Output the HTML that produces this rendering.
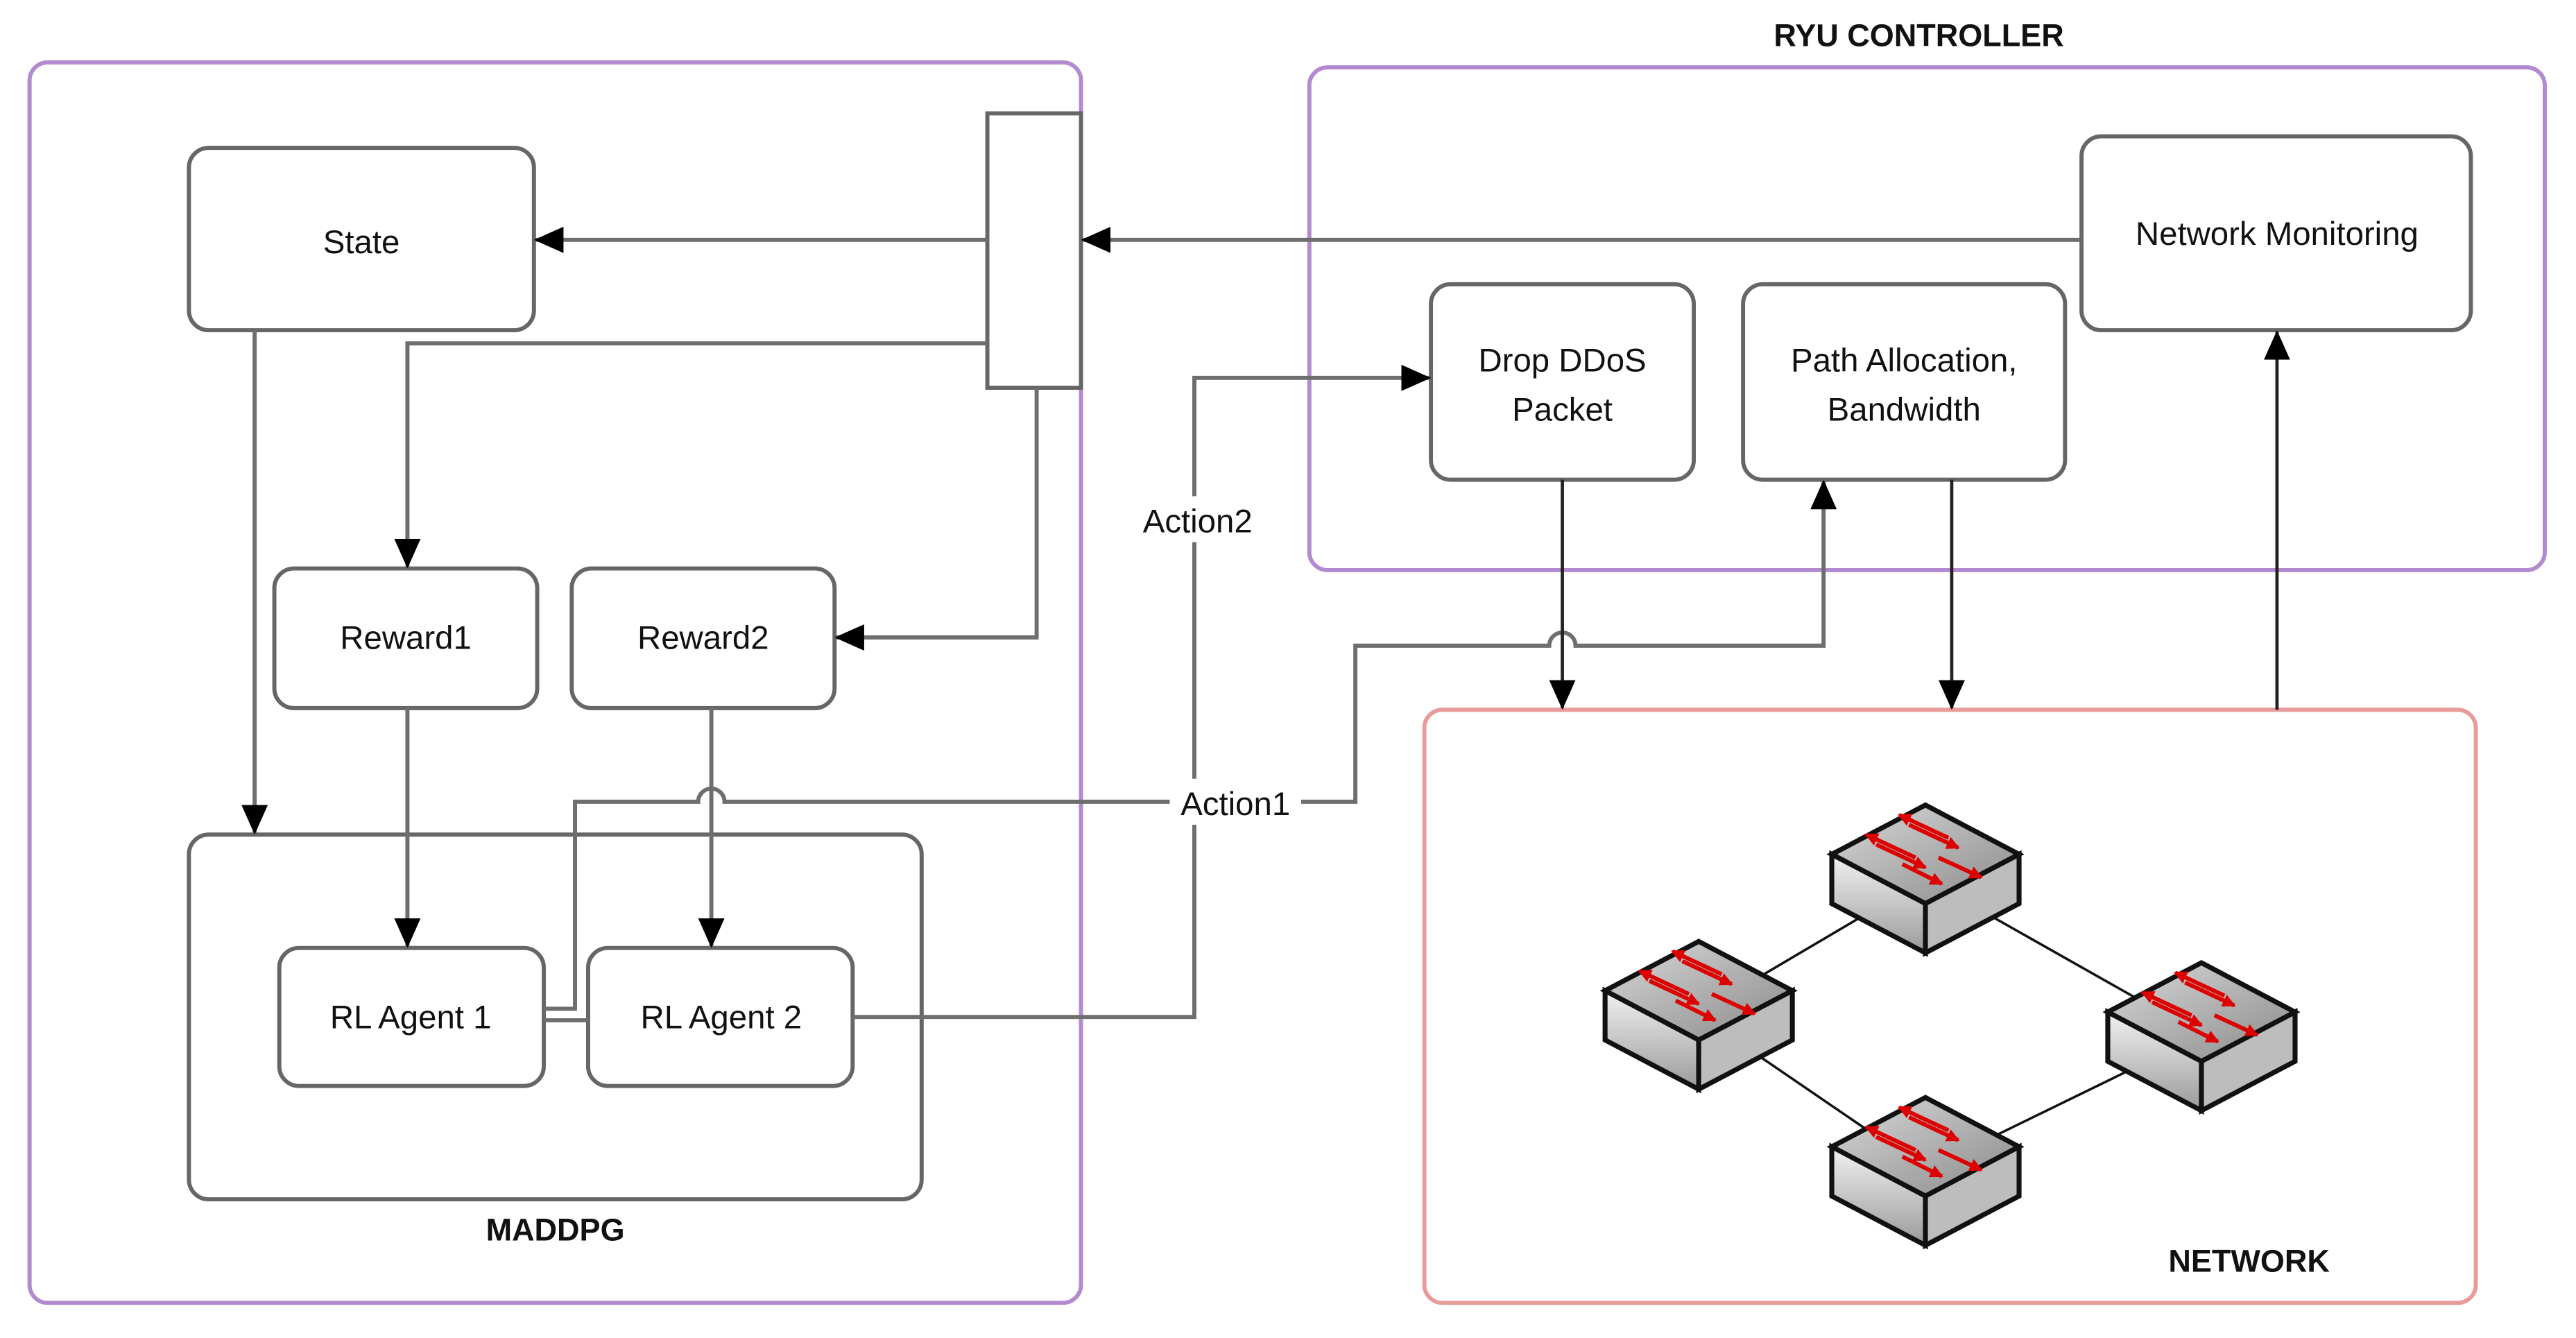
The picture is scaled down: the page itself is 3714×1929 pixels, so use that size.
<!DOCTYPE html>
<html><head><meta charset="utf-8"><style>
html,body{margin:0;padding:0;background:#fff;}
svg{display:block;}
text{font-family:"Liberation Sans",sans-serif;font-size:20px;fill:#111;}
.b{font-weight:bold;font-size:19px;}
</style></head><body>
<svg width="3714" height="1929" viewBox="0 0 1568 814.4" preserveAspectRatio="none" xmlns="http://www.w3.org/2000/svg">
<defs>
<marker id="a" markerWidth="8" markerHeight="8" refX="7" refY="4" orient="auto" markerUnits="userSpaceOnUse"><path d="M0,0 L8,4 L0,8 z" fill="#d00"/></marker>
<marker id="A" markerWidth="18" markerHeight="16" refX="17" refY="8" orient="auto" markerUnits="userSpaceOnUse"><path d="M0,0 L18,8 L0,16 z" fill="#000"/></marker>
<linearGradient id="g" x1="0" y1="0" x2="0" y2="1"><stop offset="0" stop-color="#f2f2f2"/><stop offset="1" stop-color="#9a9a9a"/></linearGradient>
<linearGradient id="g2" x1="0" y1="0" x2="1" y2="1"><stop offset="0" stop-color="#d8d8d8"/><stop offset="1" stop-color="#8a8a8a"/></linearGradient>
<g id="sw">
<path d="M-57,-12 L0,-42 L57,-12 L0,18 z" fill="url(#g2)" stroke="#111" stroke-width="3"/>
<path d="M-57,-12 L0,18 L0,48 L-57,18 z" fill="url(#g)" stroke="#111" stroke-width="3"/>
<path d="M0,18 L57,-12 L57,18 L0,48 z" fill="#bdbdbd" stroke="#111" stroke-width="3"/>
<g stroke="#d00" stroke-width="2.5" fill="none">
<path d="M-10,-30 L20,-16" marker-end="url(#a)"/><path d="M14,-22 L-16,-36" marker-end="url(#a)"/>
<path d="M-30,-18 L0,-4" marker-end="url(#a)"/><path d="M-6,-10 L-36,-24" marker-end="url(#a)"/>
<path d="M8,-10 L34,2" marker-end="url(#a)"/><path d="M-14,-6 L10,6" marker-end="url(#a)"/>
</g>
</g>
</defs>

<rect x="18" y="38" width="640" height="755" rx="11" fill="none" stroke="#b38ad0" stroke-width="2.5"/>
<rect x="797" y="41" width="752" height="306" rx="11" fill="none" stroke="#b38ad0" stroke-width="2.5"/>
<rect x="867" y="432" width="640" height="361" rx="11" fill="none" stroke="#e89b9b" stroke-width="2.5"/>
<text class="b" x="1168" y="28" text-anchor="middle">RYU CONTROLLER</text>
<text class="b" x="338" y="755" text-anchor="middle">MADDPG</text>
<text class="b" x="1369" y="774" text-anchor="middle">NETWORK</text>

<g fill="#fff" stroke="#666" stroke-width="2.5">
<rect x="115" y="90" width="210" height="111" rx="12"/>
<rect x="601" y="69" width="57" height="167"/>
<rect x="1267" y="83" width="237" height="118" rx="12"/>
<rect x="871" y="173" width="160" height="119" rx="12"/>
<rect x="1061" y="173" width="196" height="119" rx="12"/>
<rect x="167" y="346" width="160" height="85" rx="12"/>
<rect x="348" y="346" width="160" height="85" rx="12"/>
<rect x="115" y="508" width="446" height="222" rx="12"/>
<rect x="170" y="577" width="161" height="84" rx="12"/>
<rect x="358" y="577" width="161" height="84" rx="12"/>
</g>
<text x="220" y="154" text-anchor="middle">State</text>
<text x="1386" y="149" text-anchor="middle">Network Monitoring</text>
<text x="951" y="226" text-anchor="middle">Drop DDoS</text>
<text x="951" y="256" text-anchor="middle">Packet</text>
<text x="1159" y="226" text-anchor="middle">Path Allocation,</text>
<text x="1159" y="256" text-anchor="middle">Bandwidth</text>
<text x="247" y="395" text-anchor="middle">Reward1</text>
<text x="428" y="395" text-anchor="middle">Reward2</text>
<text x="250" y="626" text-anchor="middle">RL Agent 1</text>
<text x="439" y="626" text-anchor="middle">RL Agent 2</text>

<g fill="none" stroke="#6e6e6e" stroke-width="2.5">
<path d="M1267,146 H659" marker-end="url(#A)"/>
<path d="M601,146 H326" marker-end="url(#A)"/>
<path d="M601,209 H248 V345" marker-end="url(#A)"/>
<path d="M631,236 V388 H509" marker-end="url(#A)"/>
<path d="M155,201 V507" marker-end="url(#A)"/>
<path d="M248,431 V576" marker-end="url(#A)"/>
<path d="M433,431 V576" marker-end="url(#A)"/>
<path d="M331,614 H350 V488 H425 A8,8 0 0 1 441,488 H712"/>
<path d="M792,488 H825 V393 H943 A8,8 0 0 1 959,393 H1110 V293" marker-end="url(#A)"/>
<path d="M331,621 H358"/>
<path d="M519,619 H727 V502"/>
<path d="M727,474 V330"/>
<path d="M727,302 V230 H870" marker-end="url(#A)"/>
</g>
<g fill="none" stroke="#222" stroke-width="2">
<path d="M951,292 V431" marker-end="url(#A)"/>
<path d="M1188,292 V431" marker-end="url(#A)"/>
<path d="M1386,432 V202" marker-end="url(#A)"/>
</g>
<rect x="690" y="304" width="80" height="24" fill="#fff"/>
<text x="729" y="324" text-anchor="middle">Action2</text>
<text x="752" y="496" text-anchor="middle">Action1</text>

<g stroke="#111" stroke-width="1.5">
<line x1="1033" y1="617" x2="1172" y2="535"/>
<line x1="1172" y1="535" x2="1340" y2="630"/>
<line x1="1033" y1="617" x2="1172" y2="712"/>
<line x1="1172" y1="712" x2="1340" y2="630"/>
</g>
<use href="#sw" x="1172" y="532"/>
<use href="#sw" x="1034" y="615"/>
<use href="#sw" x="1340" y="628"/>
<use href="#sw" x="1172" y="710"/>
</svg>
</body></html>
